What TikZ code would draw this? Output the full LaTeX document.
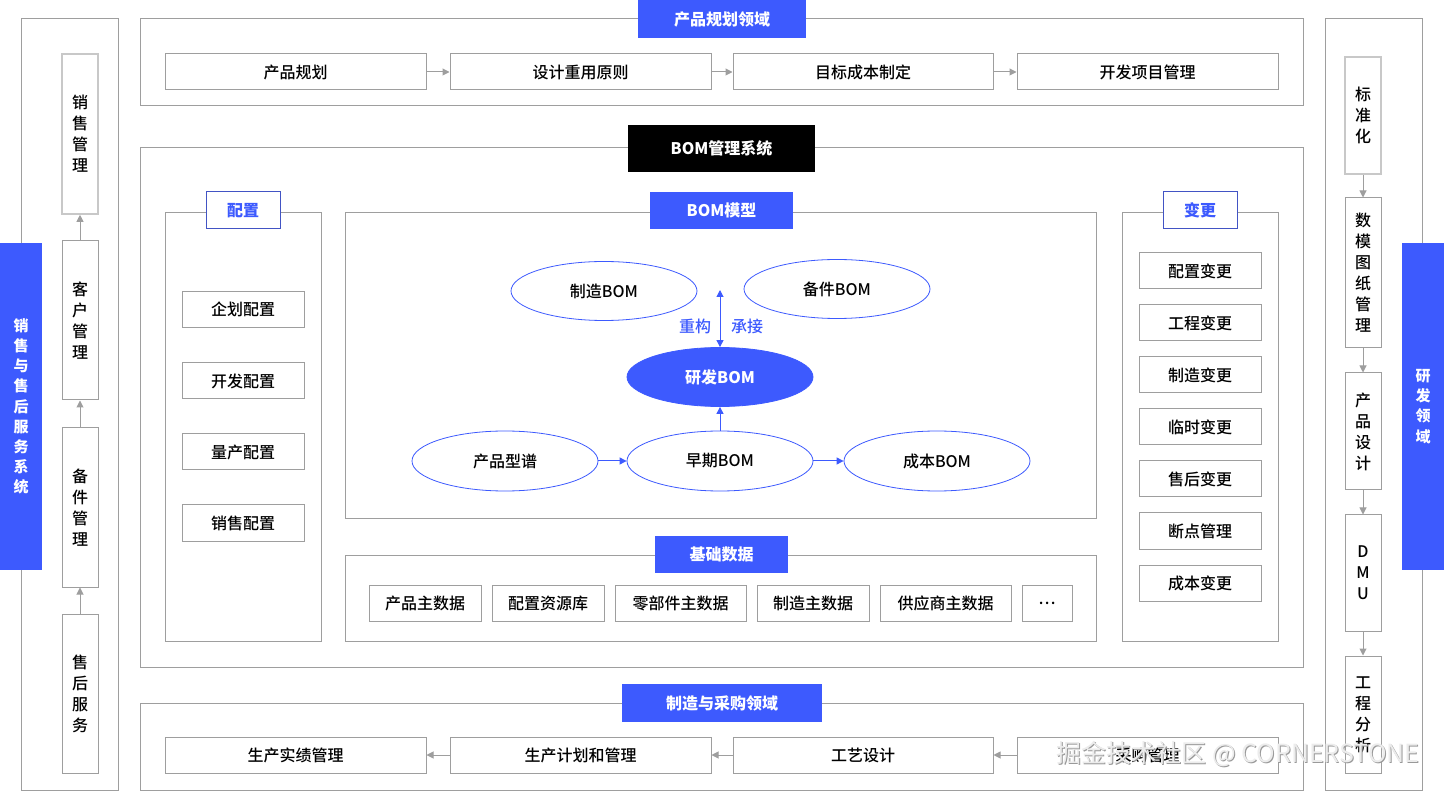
\documentclass[tikz,border=0pt]{standalone}
\usepackage{fontspec}
\setmainfont{Noto Sans CJK SC}
\IfFontExistsTF{Noto Sans CJK SC Medium}
  {\newfontfamily\medfont{Noto Sans CJK SC Medium}}
  {\newfontfamily\medfont{Noto Sans CJK SC}[FakeBold=0.5]}
\usetikzlibrary{arrows.meta,shapes.geometric}

\definecolor{bomblue}{RGB}{61,90,254}
\definecolor{tagblue}{RGB}{66,84,196}
\definecolor{linegray}{RGB}{158,158,158}
\definecolor{softgray}{RGB}{200,200,200}

\tikzset{
  frame/.style={draw=linegray, line width=1pt},
  item/.style={draw=linegray, line width=1pt, fill=white, inner sep=0pt,
    minimum height=36, font=\fontsize{16}{20}\selectfont\medfont},
  vitem/.style={item, minimum width=36, align=center,
    font=\fontsize{16}{21}\selectfont\medfont},
  softitem/.style={vitem, draw=softgray, line width=1.6pt},
  bluetag/.style={fill=bomblue, text=white, inner sep=0pt,
    font=\fontsize{16}{20}\selectfont\bfseries},
  whitetag/.style={draw=tagblue, line width=1pt, fill=white, text=bomblue,
    inner sep=0pt, minimum width=74, minimum height=37,
    font=\fontsize{16}{20}\selectfont\bfseries},
  sidebar/.style={fill=bomblue, text=white, inner sep=0pt, minimum width=42,
    minimum height=327, align=center, font=\fontsize{15}{20.2}\selectfont\bfseries},
  bom/.style={ellipse, draw=bomblue, line width=0.8pt, fill=white, inner sep=0pt,
    minimum width=186, minimum height=59, font=\fontsize{16}{20}\selectfont\medfont},
  grayarrow/.style={draw=linegray, line width=1pt,
    -{Triangle[length=7pt,width=7pt]}},
  bluearrow/.style={draw=bomblue, line width=1pt,
    -{Triangle[length=7pt,width=7pt]}},
}

\begin{document}
\begin{tikzpicture}[x=1pt, y=-1pt]
\useasboundingbox (0,0) rectangle (1444,791);

% outer frames
\draw[frame] (21,19) rectangle (118,790);
\draw[frame] (1325,19) rectangle (1422,790);
\draw[frame] (140,19) rectangle (1303,106);
\draw[frame] (140,148) rectangle (1303,667);
\draw[frame] (140,703) rectangle (1303,790);
\draw[frame] (165,213) rectangle (321,641);
\draw[frame] (345,213) rectangle (1096,519);
\draw[frame] (345,555) rectangle (1096,641);
\draw[frame] (1122,213) rectangle (1278,641);

% side bars
\node[sidebar] (salesbar) at (21,406.5) {销\\售\\与\\售\\后\\服\\务\\系\\统};
\node[sidebar] (rdbar) at (1423,406.5) {研\\发\\领\\域};

% section titles
\node[bluetag, minimum width=168, minimum height=38] (plantitle) at (722,19) {产品规划领域};
\node[bluetag, fill=black, minimum width=187, minimum height=47] (systitle) at (721.5,148.5) {BOM管理系统};
\node[bluetag, minimum width=143, minimum height=37] (modeltitle) at (721.5,210.5) {BOM模型};
\node[bluetag, minimum width=133, minimum height=37] (datatitle) at (721.5,554.5) {基础数据};
\node[bluetag, minimum width=200, minimum height=38] (maketitle) at (722,703) {制造与采购领域};
\node[whitetag] (cfgtitle) at (243,210.5) {配置};
\node[whitetag] (chgtitle) at (1200,210.5) {变更};

% product planning
\node[item, minimum width=261] (plan) at (295.5,72) {产品规划};
\node[item, minimum width=261] (reuse) at (580.5,72) {设计重用原则};
\node[item, minimum width=260] (target) at (863,72) {目标成本制定};
\node[item, minimum width=261] (project) at (1147.5,72) {开发项目管理};
\draw[grayarrow] (plan) -- (reuse);
\draw[grayarrow] (reuse) -- (target);
\draw[grayarrow] (target) -- (project);

% manufacturing and purchasing
\node[item, minimum width=261] (result) at (295.5,755) {生产实绩管理};
\node[item, minimum width=261] (schedule) at (580.5,755) {生产计划和管理};
\node[item, minimum width=260] (process) at (863,755) {工艺设计};
\node[item, minimum width=261] (purchase) at (1147.5,755) {采购管理};
\draw[grayarrow] (purchase) -- (process);
\draw[grayarrow] (process) -- (schedule);
\draw[grayarrow] (schedule) -- (result);

% sales column
\node[softitem, minimum height=160] (salesmgmt) at (80,134) {销\\售\\管\\理};
\node[vitem, minimum height=159] (customer) at (80,320.5) {客\\户\\管\\理};
\node[vitem, minimum height=159] (spare) at (80,507.5) {备\\件\\管\\理};
\node[vitem, minimum height=159] (service) at (80,693.5) {售\\后\\服\\务};
\draw[grayarrow] (service) -- (spare);
\draw[grayarrow] (spare) -- (customer);
\draw[grayarrow] (customer) -- (salesmgmt);

% R&D column
\node[softitem, minimum height=117] (standard) at (1363,115.5) {标\\准\\化};
\node[vitem, minimum height=150] (drawing) at (1363,273) {数\\模\\图\\纸\\管\\理};
\node[vitem, minimum height=117] (design) at (1363,431.5) {产\\品\\设\\计};
\node[vitem, minimum height=116] (dmu) at (1363,573) {D\\M\\U};
\node[vitem, minimum height=117] (analysis) at (1363,714.5) {工\\程\\分\\析};
\draw[grayarrow] (standard) -- (drawing);
\draw[grayarrow] (drawing) -- (design);
\draw[grayarrow] (design) -- (dmu);
\draw[grayarrow] (dmu) -- (analysis);

% configuration
\node[item, minimum width=122] (cfgplan) at (243,309.5) {企划配置};
\node[item, minimum width=122] (cfgdev) at (243,381) {开发配置};
\node[item, minimum width=122] (cfgmass) at (243,452) {量产配置};
\node[item, minimum width=122] (cfgsale) at (243,523) {销售配置};

% changes
\node[item, minimum width=122] (chgcfg) at (1200,271) {配置变更};
\node[item, minimum width=122] (chgeng) at (1200,323) {工程变更};
\node[item, minimum width=122] (chgmfg) at (1200,375) {制造变更};
\node[item, minimum width=122] (chgtmp) at (1200,427) {临时变更};
\node[item, minimum width=122] (chgsvc) at (1200,479) {售后变更};
\node[item, minimum width=122] (chgbrk) at (1200,531) {断点管理};
\node[item, minimum width=122] (chgcost) at (1200,583) {成本变更};

% master data
\node[item, minimum width=112] (dprod) at (425,603) {产品主数据};
\node[item, minimum width=112] (dres) at (548,603) {配置资源库};
\node[item, minimum width=131] (dpart) at (680.5,603) {零部件主数据};
\node[item, minimum width=112] (dmfg) at (813,603) {制造主数据};
\node[item, minimum width=131] (dsup) at (945.5,603) {供应商主数据};
\node[item, minimum width=50] (dmore) at (1047,603) {…};

% BOM model
\node[bom] (mbom) at (604,291) {制造BOM};
\node[bom] (sbom) at (837,289) {备件BOM};
\node[bom, fill=bomblue, text=white, font=\fontsize{16}{20}\selectfont\bfseries] (rdbom) at (720,377) {研发BOM};
\node[bom, minimum height=60] (series) at (505,461) {产品型谱};
\node[bom, minimum height=60] (ebom) at (720,461) {早期BOM};
\node[bom, minimum height=60] (cbom) at (937,461) {成本BOM};
\coordinate (handover) at (720,290);
\draw[bluearrow, {Triangle[length=7pt,width=7pt]}-{Triangle[length=7pt,width=7pt]}] (handover) -- (rdbom.north);
\node[text=bomblue, font=\fontsize{16}{20}\selectfont\medfont] (rebuild) at (695,326) {重构};
\node[text=bomblue, font=\fontsize{16}{20}\selectfont\medfont] (inherit) at (747,326) {承接};
\draw[bluearrow] (series) -- (ebom);
\draw[bluearrow] (ebom) -- (cbom);
\draw[bluearrow] (ebom) -- (rdbom);

% watermark
\node[text=gray!80, font=\fontsize{25}{28}\selectfont] (markshadow) at (1239,755) {掘金技术社区 @ CORNERSTONE};
\node[text=gray!15, font=\fontsize{25}{28}\selectfont] (mark) at (1238,754) {掘金技术社区 @ CORNERSTONE};
\end{tikzpicture}
\end{document}
